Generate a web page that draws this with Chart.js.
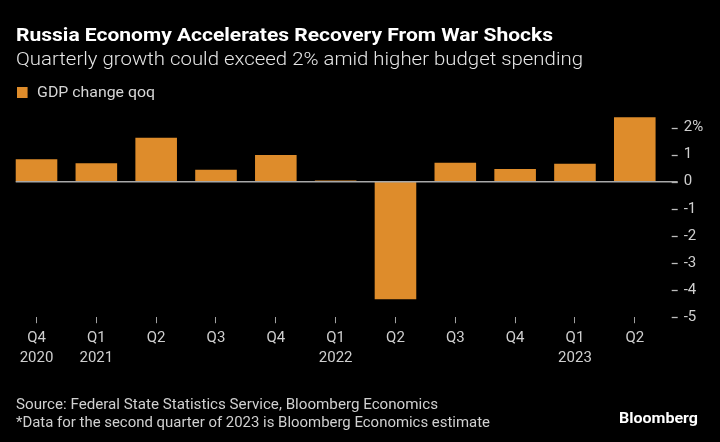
<!DOCTYPE html>
<html>
<head>
<meta charset="utf-8">
<script src="https://cdn.jsdelivr.net/npm/chart.js@4/dist/chart.umd.min.js"></script>
<style>
  html, body { margin: 0; padding: 0; background: #000; }
  #wrap { position: relative; width: 720px; height: 442px; background: #000; overflow: hidden; font-family: Roboto, "Noto Sans", sans-serif; }
  canvas { position: absolute; left: 0; top: 0; }
  .t { position: absolute; white-space: nowrap; transform-origin: 0 50%; }
  #title { left: 16px; top: 23px; font-size: 19px; line-height: 24px; font-weight: 700; color: #fff; }
  #subtitle { left: 16px; top: 47px; font-size: 18px; line-height: 24px; font-weight: 300; color: #e6e6e6; }
  #legend { left: 17px; top: 82px; font-size: 15px; line-height: 20px; color: #d6d6d6; }
  #legend .sw { display: inline-block; width: 10px; height: 11px; background: #DE8C2B; margin-right: 9px; vertical-align: -1px; }
  #source { left: 16px; top: 394px; font-size: 15px; line-height: 20px; color: #d0d0d0; }
  #note { left: 16px; top: 412px; font-size: 15px; line-height: 20px; color: #d0d0d0; }
  #brand { left: 619px; top: 408px; font-size: 15px; line-height: 20px; font-weight: 700; color: #fff; }
</style>
</head>
<body>
<div id="wrap">
  <canvas id="c" width="720" height="442"></canvas>
  <div class="t" id="title" data-w="537">Russia Economy Accelerates Recovery From War Shocks</div>
  <div class="t" id="subtitle" data-w="567">Quarterly growth could exceed 2% amid higher budget spending</div>
  <div class="t" id="legend" data-w="138"><span class="sw"></span>GDP change qoq</div>
  <div class="t" id="source" data-w="422">Source: Federal State Statistics Service, Bloomberg Economics</div>
  <div class="t" id="note" data-w="474">*Data for the second quarter of 2023 is Bloomberg Economics estimate</div>
  <div class="t" id="brand" data-w="79">Bloomberg</div>
</div>
<script>
// ---- data ----
const quarters = ["Q4", "Q1", "Q2", "Q3", "Q4", "Q1", "Q2", "Q3", "Q4", "Q1", "Q2"];
const years    = ["2020", "2021", "", "", "", "2022", "", "", "", "2023", ""];
const gdpChangeQoq = [0.83, 0.68, 1.62, 0.44, 0.99, 0.05, -4.34, 0.70, 0.47, 0.66, 2.38];
const yTickValues = [2, 1, 0, -1, -2, -3, -4, -5];
const seriesLabel = "GDP change qoq";

// fit text widths
function fitTexts() {
  document.querySelectorAll('.t[data-w]').forEach(el => {
    el.style.transform = 'none';
    const w = el.getBoundingClientRect().width;
    const target = parseFloat(el.dataset.w);
    if (w > 0) el.style.transform = 'scaleX(' + (target / w) + ')';
  });
}

const BAR = '#DE8C2B';
const TICK_TXT = '#cfcfcf';
const LINE = '#a8a8a8';

const decor = {
  id: 'decor',
  afterDatasetsDraw(chart) {
    const ctx = chart.ctx;
    const ys = chart.scales.y;
    const xs = chart.scales.x;
    const area = chart.chartArea;
    const meta = chart.getDatasetMeta(0);
    const bw = meta.data[0].width;
    ctx.save();
    // y tick marks
    ctx.strokeStyle = '#bdbdbd';
    ctx.lineWidth = 1.3;
    yTickValues.forEach(v => {
      const py = Math.round(ys.getPixelForValue(v)) + 0.5;
      ctx.beginPath();
      ctx.moveTo(area.right + 7, py);
      ctx.lineTo(area.right + 13, py);
      ctx.stroke();
    });
    // zero baseline
    const y0 = ys.getPixelForValue(0);
    ctx.strokeStyle = LINE;
    ctx.lineWidth = 1.5;
    ctx.beginPath();
    ctx.moveTo(xs.getPixelForValue(0) - bw / 2, y0);
    ctx.lineTo(area.right + 13, y0);
    ctx.stroke();
    ctx.restore();
  }
};

const labels = quarters.map((q, i) => [q, years[i]]);

new Chart(document.getElementById('c'), {
  type: 'bar',
  data: {
    labels: labels,
    datasets: [{
      label: seriesLabel,
      data: gdpChangeQoq,
      backgroundColor: BAR,
      borderWidth: 0,
      categoryPercentage: 1.0,
      barPercentage: 0.695
    }]
  },
  options: {
    responsive: false,
    animation: false,
    devicePixelRatio: 1,
    layout: { padding: { left: 6.6, right: 0, top: 114, bottom: 0 } },
    plugins: {
      legend: { display: false },
      title: { display: false },
      tooltip: { enabled: false }
    },
    scales: {
      x: {
        offset: true,
        border: { display: false },
        grid: {
          display: true,
          offset: false,
          drawOnChartArea: false,
          drawTicks: true,
          tickLength: 6,
          tickColor: '#a0a0a0',
          tickWidth: 1
        },
        ticks: {
          color: TICK_TXT,
          font: { family: 'Roboto', size: 15, lineHeight: 1.34 },
          padding: 5,
          maxRotation: 0,
          autoSkip: false
        },
        afterFit(scale) { scale.height = 442 - 317.2; }
      },
      y: {
        position: 'right',
        min: -5,
        max: 2.5,
        border: { display: false },
        grid: { display: false, drawTicks: false },
        afterBuildTicks(scale) { scale.ticks = yTickValues.map(v => ({ value: v })); },
        ticks: {
          color: TICK_TXT,
          font: { family: 'Roboto', size: 15 },
          padding: 19,
          crossAlign: 'near',
          callback: (v) => (v === 2 ? '2%' : String(v))
        },
        afterFit(scale) { scale.width = 720 - 664.7; }
      }
    }
  },
  plugins: [decor]
});

fitTexts();
if (document.fonts && document.fonts.ready) document.fonts.ready.then(fitTexts);
</script>
</body>
</html>
